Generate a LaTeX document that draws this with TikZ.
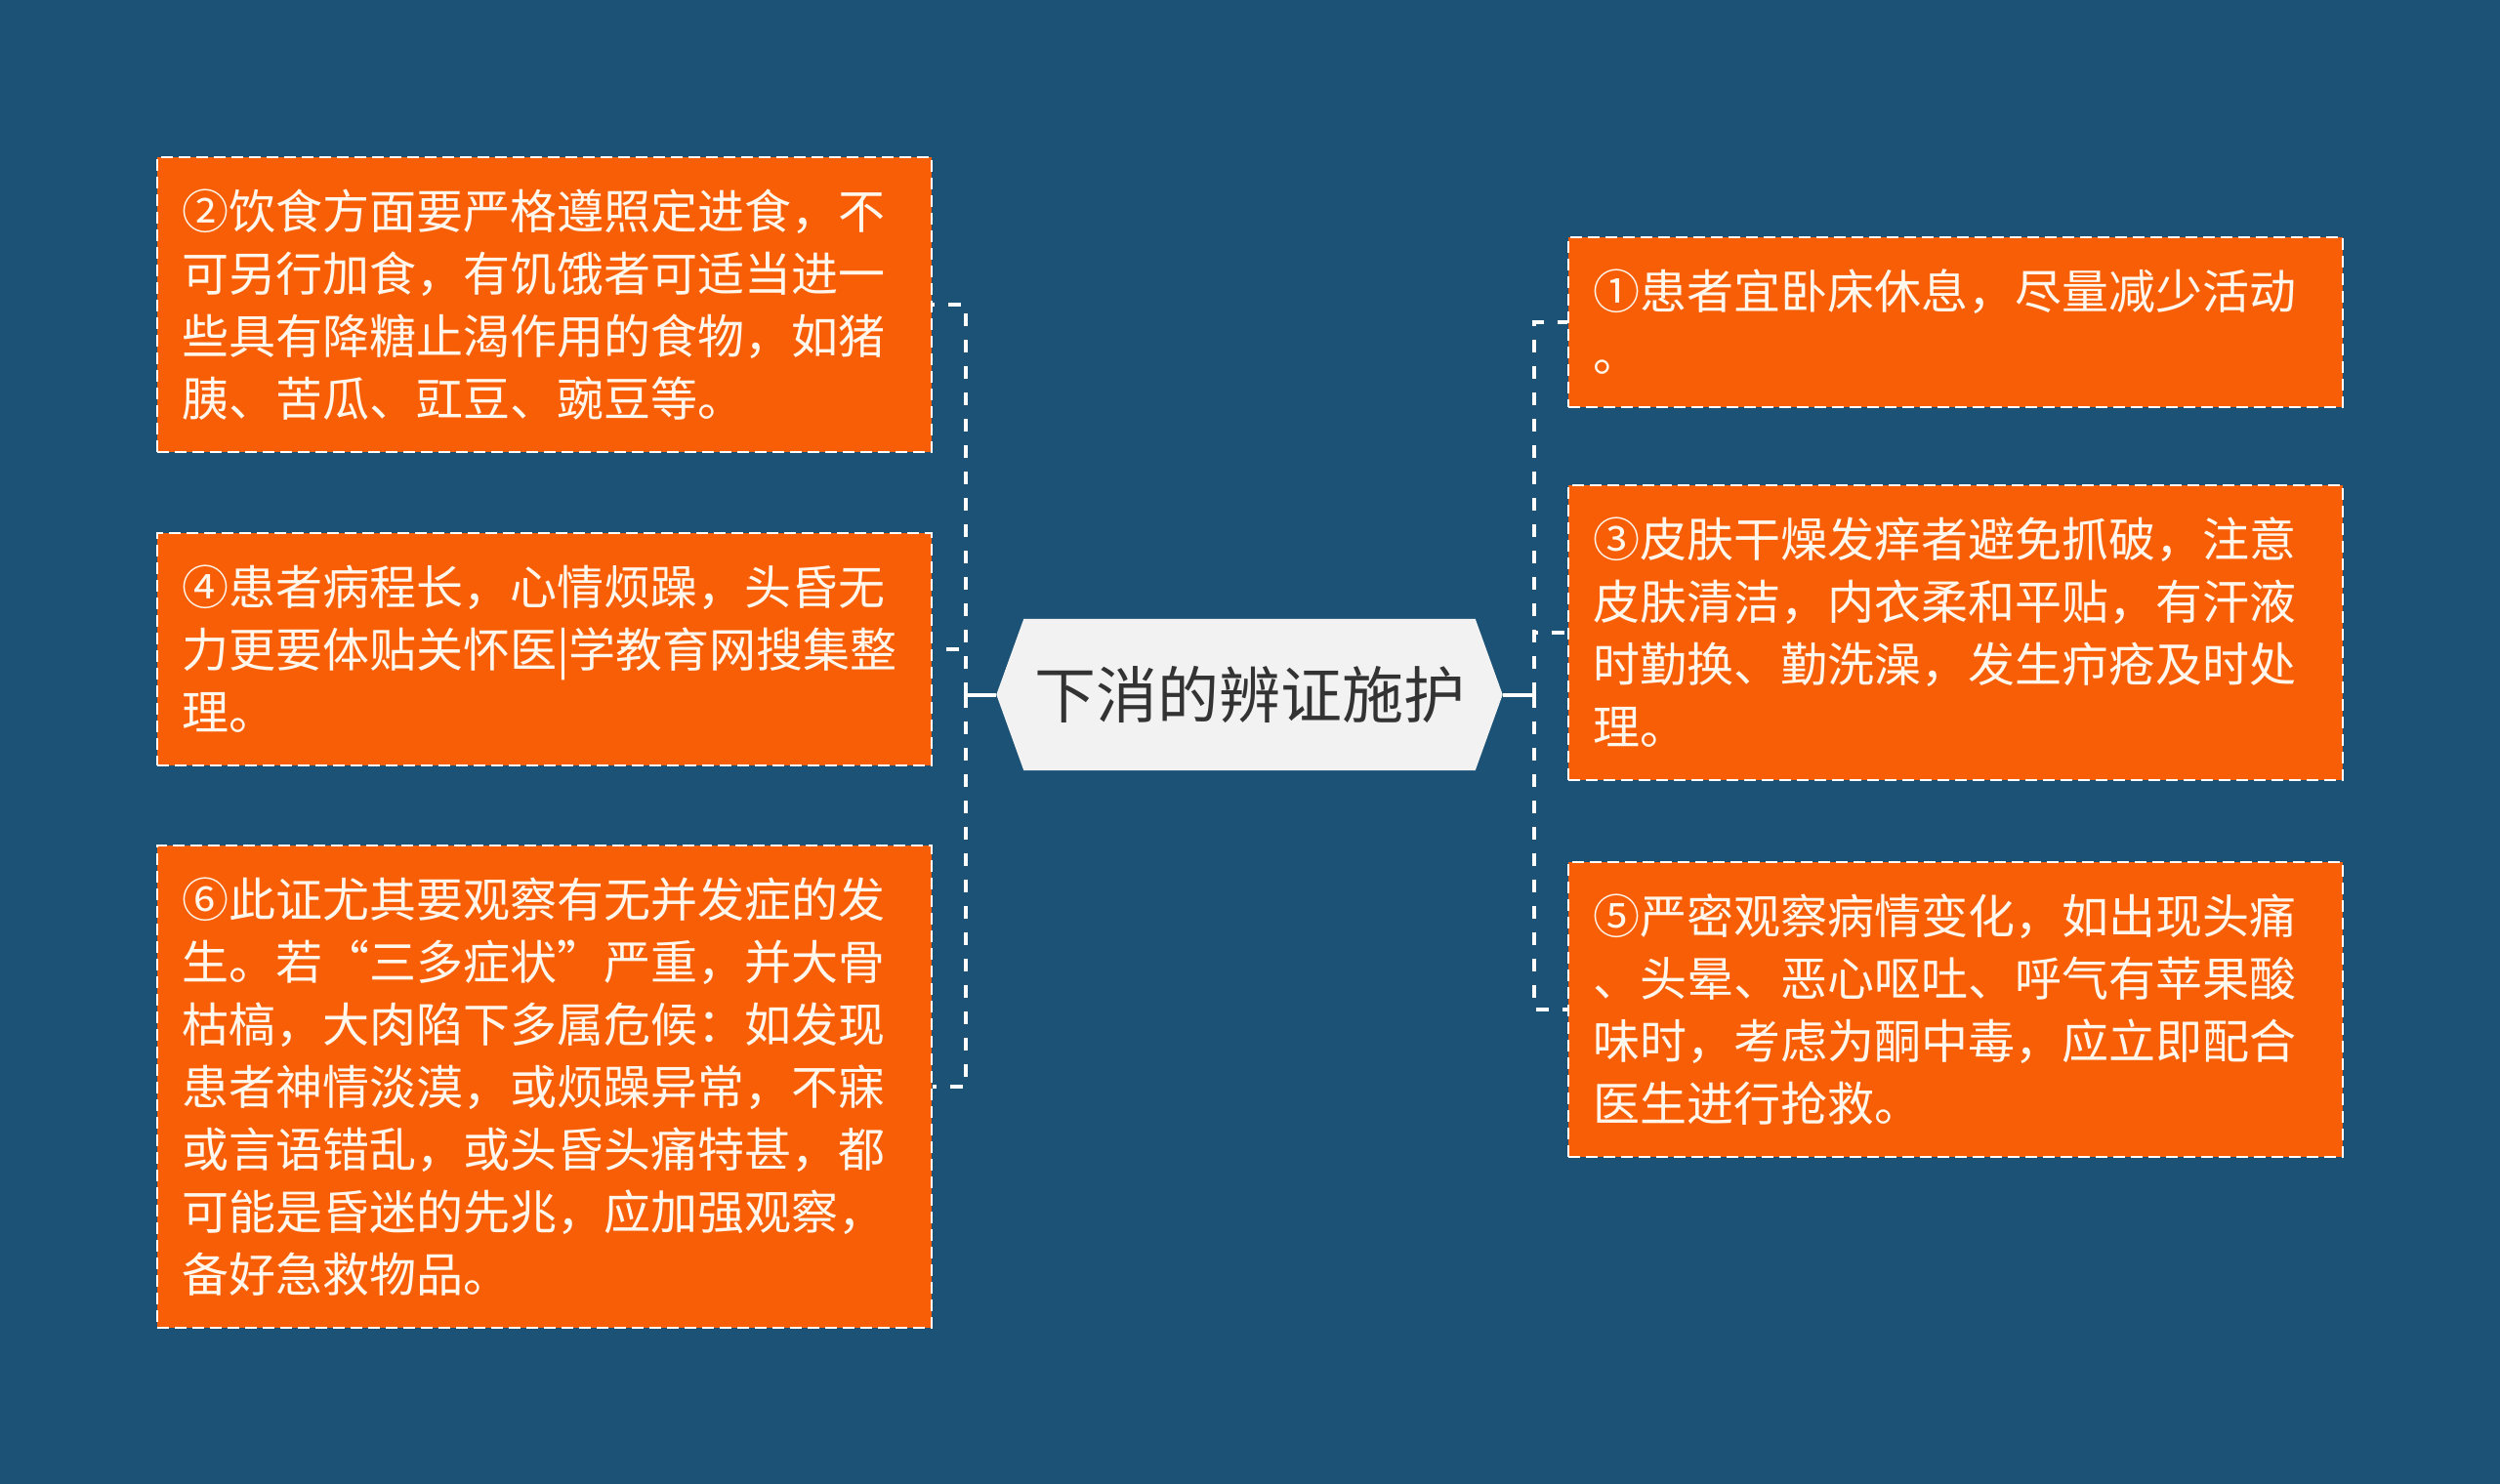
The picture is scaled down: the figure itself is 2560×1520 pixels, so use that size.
\documentclass[tikz,border=0pt]{standalone}
\usepackage{fontspec}
\setmainfont{Noto Sans CJK SC}
\usetikzlibrary{calc,backgrounds}
\definecolor{bgblue}{RGB}{27,82,118}
\definecolor{boxorange}{RGB}{248,94,6}
\definecolor{cream}{RGB}{255,247,236}
\definecolor{hexfill}{RGB}{242,242,242}
\definecolor{hextext}{RGB}{51,51,51}
\tikzset{
  leaf/.style={fill=boxorange, draw=white, line width=2, dash pattern=on 12 off 6,
    text=cream, font=\fontsize{48}{64}\selectfont, align=left, text width=743,
    inner xsep=25, inner ysep=0, anchor=north west},
  root/.style={minimum width=462, minimum height=155, inner sep=0,
    text=hextext, font=\fontsize{63}{70}\selectfont},
  link/.style={draw=white, line width=4},
  dlink/.style={link, dash pattern=on 13 off 14}
}
\begin{document}
\begin{tikzpicture}[x=1pt,y=-1pt]
\useasboundingbox (0,0) rectangle (2560,1520);
\begin{scope}[on background layer]
\fill[bgblue] (0,0) rectangle (2560,1520);
\end{scope}

\node[root] (c) at (1279.5,711.5) {下消的辨证施护};
\coordinate (cl) at ($(c.west)+(-28,0)$);
\coordinate (cr) at ($(c.east)+(28,0)$);
\begin{scope}[on background layer]
\fill[hexfill] (c.north west) -- (c.north east) -- (cr) -- (c.south east) -- (c.south west) -- (cl) -- cycle;
\end{scope}

% left boxes
\node[leaf, minimum height=302] (b2) at (160,160) {②饮食方面要严格遵照定进食，不\\可另行加食，有饥饿者可适当进一\\些具有降糖止渴作用的食物，如猪\\胰、苦瓜、豇豆、豌豆等。};
\node[leaf, minimum height=238] (b4) at (160,545) {④患者病程长，心情烦躁，头昏无\\力更要体贴关怀医|学教育网搜集整\\理。};
\node[leaf, minimum height=494] (b6) at (160,865) {⑥此证尤其要观察有无并发症的发\\生。若“三多症状”严重，并大骨\\枯槁，大肉陷下多属危候：如发现\\患者神情淡漠，或烦躁异常，不寐\\或言语错乱，或头昏头痛特甚，都\\可能是昏迷的先兆，应加强观察，\\备好急救物品。};

% right boxes
\node[leaf, minimum height=174] (b1) at (1605,242) {①患者宜卧床休息，尽量减少活动\\。};
\node[leaf, minimum height=302] (b3) at (1605,496) {③皮肤干燥发痒者避免抓破，注意\\皮肤清洁，内衣柔和平贴，有汗液\\时勤换、勤洗澡，发生疖疮及时处\\理。};
\node[leaf, minimum height=302] (b5) at (1605,882) {⑤严密观察病情变化，如出现头痛\\、头晕、恶心呕吐、呼气有苹果酸\\味时，考虑为酮中毒，应立即配合\\医生进行抢救。};

% connectors
\coordinate (jl) at (989,711.5);
\coordinate (jr) at (1571,711.5);
\draw[link] (cl) -- (jl);
\draw[link] (cr) -- (jr);
\draw[dlink] (jl) |- (b2.east);
\draw[dlink] (jl) |- (b4.east);
\draw[dlink] (jl) |- (b6.east);
\draw[dlink] (jr) |- (b1.west);
\draw[dlink] (jr) |- (b3.west);
\draw[dlink] (jr) |- (b5.west);
\end{tikzpicture}
\end{document}
